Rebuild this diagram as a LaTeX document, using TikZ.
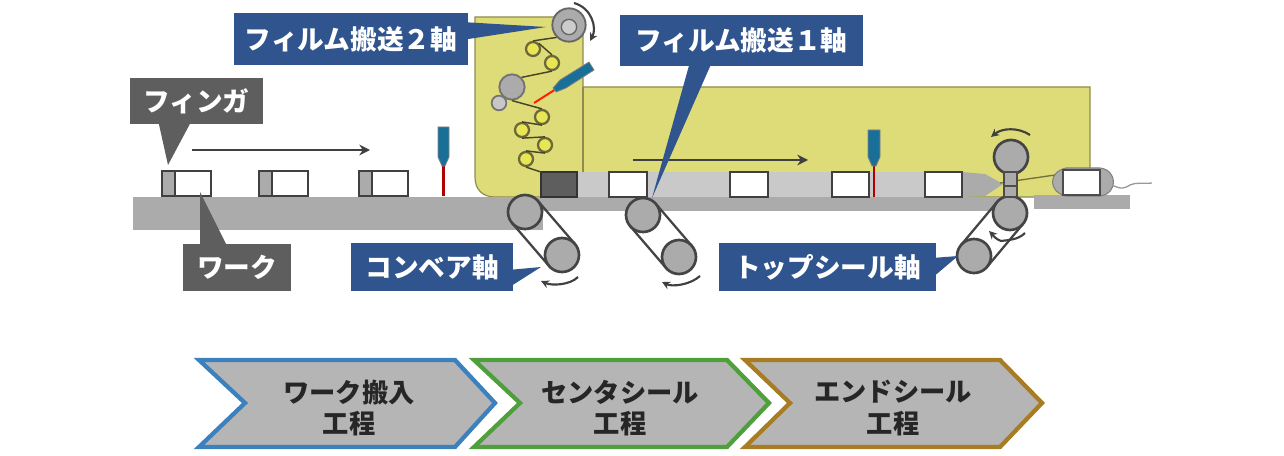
\documentclass[tikz,border=0pt]{standalone}
\usepackage{fontspec}
\setmainfont{Noto Sans CJK JP}
\usetikzlibrary{calc,arrows.meta}
\definecolor{ylw}{HTML}{DEDC78}
\definecolor{ylwd}{HTML}{8F8C4E}
\definecolor{rollr}{HTML}{ABABAB}
\definecolor{rollb}{HTML}{444444}
\definecolor{conv}{HTML}{ABABAB}
\definecolor{strip}{HTML}{C9C9C9}
\definecolor{lblue}{HTML}{30548E}
\definecolor{lgray}{HTML}{5E5E5E}
\definecolor{snsr}{HTML}{1A6F98}
\definecolor{chb}{HTML}{3D80BE}
\definecolor{chg}{HTML}{4FA03C}
\definecolor{cho}{HTML}{A87C22}
\definecolor{chf}{HTML}{B5B5B5}
\tikzset{
  roller/.style={circle,draw=rollb,line width=2pt,fill=rollr,minimum size=25.5pt,inner sep=0pt},
  yroller/.style={circle,draw=ylwd!75!black,line width=1.7pt,fill=ylw!70!yellow,minimum size=10.5pt,inner sep=0pt},
  belt/.style={draw=rollb,line width=1.7pt},
  film/.style={draw=ylwd!50!black,line width=1.1pt},
  flowarrow/.style={draw=black!75,line width=1.6pt,-{Stealth[length=8pt,width=8pt]}},
  turn/.style={draw=black!75,line width=1.6pt,-{Stealth[length=6pt,width=6pt]}},
  bluelabel/.style={fill=lblue,text=white,font=\bfseries\fontsize{20}{24}\selectfont,inner sep=0pt,anchor=center},
  graylabel/.style={fill=lgray,text=white,font=\bfseries\fontsize{20}{24}\selectfont,inner sep=0pt,anchor=center},
  chevtext/.style={text=black!85,font=\bfseries\fontsize{19.7}{23.5}\selectfont,align=center,inner sep=0pt},
  workbox/.style={draw=black!75,line width=1.2pt,fill=white},
  fingerbox/.style={draw=black!75,line width=1.4pt,fill=rollr},
  chev/.style={line width=3.2pt,fill=chf,line join=miter},
}
\begin{document}
\begin{tikzpicture}[x=0.75pt,y=-0.75pt]
\useasboundingbox (0,0) rectangle (1284,456);
% yellow housing
\draw[fill=ylw,draw=ylwd,line width=.9pt]
  (583,87) -- (1090,87) -- (1090,197) -- (495,197) .. controls (483,197) and (475,190) .. (475,177) -- (475,17) -- (583,17) -- cycle;
\draw[ylwd,line width=.9pt] (583,87) -- (583,172);
% conveyor
\fill[conv] (133,197) rectangle (543,230);
\fill[conv] (543,197) rectangle (1000,211);
\fill[conv] (1034,195) rectangle (1130,209);
% film strip
\fill[strip] (577,172) rectangle (965,197);
\draw[fill=rollr,draw=none] (962,172) -- (985,174) -- (1003,184) -- (985,196) -- (962,197) -- cycle;
\draw[fill=lgray,draw=black!80,line width=1.2pt] (541,172) rectangle (577,197);
\foreach \a/\b in {609/647,730/768,832/869,925/962}
  \draw[workbox] (\a,172) rectangle (\b,197);
% workpieces on the conveyor
\foreach \a in {162,259,359}{
  \draw[workbox] (\a,171) rectangle ++(49,25);
  \draw[fingerbox] (\a,171) rectangle ++(13,25);
}
% flow arrows
\coordinate (fa1) at (192,150); \coordinate (fa2) at (370,150);
\coordinate (fb1) at (633,160); \coordinate (fb2) at (808,160);
\draw[flowarrow] (fa1) -- (fa2);
\draw[flowarrow] (fb1) -- (fb2);
% sensors
\draw[red!70!black,line width=1.9pt] (443.5,163) -- (443.5,196);
\draw[fill=snsr,draw=black!50,line width=.6pt] (438,127) -- (449,127) -- (449,157) -- (445,166) -- (442,166) -- (438,157) -- cycle;
\draw[red!70!black,line width=1.9pt] (874,163) -- (874,197);
\draw[fill=snsr,draw=black!50,line width=.6pt] (868,130) -- (880,130) -- (880,157) -- (876,166) -- (872,166) -- (868,157) -- cycle;
% output work
\draw[ylwd!80!black,line width=1pt] (1000,183) -- (1055,175);
\draw[fill=rollr,draw=black!50,line width=.8pt] (1066,168) -- (1100,168) .. controls (1118,170) and (1118,194) .. (1100,196) -- (1066,196) .. controls (1048,192) and (1048,172) .. (1066,168) -- cycle;
\draw[fill=white,draw=black!70,line width=1.6pt] (1063,170) rectangle (1100,195);
\draw[black!40,line width=1pt] (1112,185) .. controls (1122,190) and (1125,188) .. (1130,185) .. controls (1136,182) and (1143,184) .. (1152,183);
% conveyor rollers and belts
\node[roller] (c1) at (525,212) {};
\node[roller] (c2) at (562,255) {};
\node[roller] (b1) at (643,215) {};
\node[roller] (b2) at (679,257) {};
\node[roller] (t1) at (1010,213) {};
\node[roller] (t2) at (974,256) {};
\node[roller] (ts) at (1011,157) {};
\foreach \p/\q in {c1/c2,b1/b2,t1/t2}{
  \draw[belt] ($(\p)!17cm*0.02635!90:(\q)$) -- ($(\q)!17cm*0.02635!-90:(\p)$);
  \draw[belt] ($(\p)!17cm*0.02635!-90:(\q)$) -- ($(\q)!17cm*0.02635!90:(\p)$);
}
% seal column
\draw[fill=rollr,draw=black!70,line width=1.2pt] (1004,172) rectangle (1017,186);
\draw[fill=rollr,draw=black!70,line width=1.2pt] (1004,186) rectangle (1017,197);
% rotation arrows
\coordinate (r1a) at (578,277); \coordinate (r1b) at (541,281);
\coordinate (r2a) at (700,276); \coordinate (r2b) at (662,282);
\coordinate (r3a) at (1025,233); \coordinate (r3b) at (989,231);
\coordinate (r4a) at (1030,135); \coordinate (r4b) at (991,137);
\coordinate (r5a) at (574,3); \coordinate (r5b) at (590,41);
\draw[turn] (r1a) .. controls (570,285) and (552,286) .. (r1b);
\draw[turn] (r2a) .. controls (690,285) and (672,287) .. (r2b);
\draw[turn] (r3a) .. controls (1018,240) and (1008,240) .. (1001,241) .. controls (994,238) and (994,236) .. (r3b);
\draw[turn] (r4a) .. controls (1018,127) and (1002,128) .. (r4b);
\draw[turn] (r5a) .. controls (592,8) and (597,28) .. (r5b);
% film tower
\node[circle,draw=black!60,line width=1.4pt,fill=rollr,minimum size=25pt,inner sep=0pt] (reel) at (569,25) {};
\node[circle,draw=black!60,line width=1pt,fill=black!20,minimum size=11.5pt,inner sep=0pt] (hub) at (569,27) {};
\node[yroller] (y1) at (533,49) {};
\node[yroller] (y2) at (552,63) {};
\node[circle,draw=black!55,line width=1.4pt,fill=rollr,minimum size=19pt,inner sep=0pt] (big) at (512,87) {};
\node[circle,draw=black!55,line width=1.3pt,fill=black!22,minimum size=11pt,inner sep=0pt] (small) at (499,103) {};
\node[yroller] (y3) at (542,117) {};
\node[yroller] (y4) at (522,130) {};
\node[yroller] (y5) at (545,145) {};
\node[yroller] (y6) at (526,159) {};
\draw[film] (reel.south west) -- (y1.north);
\draw[film] (y1.north east) -- (y2.north);
\draw[film] (y2.south) -- (big.north east);
\draw[film] (big.south) -- (y3.north);
\draw[film] (y3.south) -- (y4.north);
\draw[film] (y4.south) -- (y5.north);
\draw[film] (y5.south) -- (y6.north);
\draw[film] (y6.south) -- (541,172);
% sealer on the tower
\draw[red!75!orange,line width=1.5pt] (534,103) -- (556,89);
\draw[fill=snsr,draw=black!50,line width=.6pt] (589,62) -- (594,70) -- (566,88) -- (556,92) -- (553,88) -- (560,80) -- cycle;
% label pointers
\fill[lblue] (462,22) -- (462,40) -- (546,27) -- cycle;
\fill[lblue] (690,62) -- (712,62) -- (652,198) -- cycle;
\fill[lgray] (158,120) -- (192,120) -- (168,165) -- cycle;
\fill[lgray] (200,192) -- (200,248) -- (228,248) -- cycle;
\fill[lblue] (508,270) -- (508,288) -- (541,267) -- cycle;
\fill[lblue] (932,258) -- (932,278) -- (958,256) -- cycle;
% labels
\node[bluelabel,minimum width=175pt,minimum height=39pt] (l2) at (351,39) {フィルム搬送２軸};
\node[bluelabel,minimum width=182pt,minimum height=38pt] (l1) at (741.5,40.5) {フィルム搬送１軸};
\node[graylabel,minimum width=100pt,minimum height=34.5pt] (lf) at (196.5,101) {フィンガ};
\node[graylabel,minimum width=81pt,minimum height=35pt] (lw) at (237,267.5) {ワーク};
\node[bluelabel,minimum width=121.5pt,minimum height=36pt] (lc) at (432,267) {コンベア軸};
\node[bluelabel,minimum width=162.5pt,minimum height=36pt] (lt) at (827.5,267) {トップシール軸};
% chevrons
\draw[chev,draw=cho] (745,360) -- (1000,360) -- (1042,403) -- (1000,447) -- (745,447) -- (790,403) -- cycle;
\draw[chev,draw=chg] (474,360) -- (727,360) -- (769,403) -- (727,447) -- (474,447) -- (520,403) -- cycle;
\draw[chev,draw=chb] (199,360) -- (455,360) -- (495,403) -- (455,447) -- (199,447) -- (245,403) -- cycle;
\node[chevtext] (p1) at (349,408) {ワーク搬入\\工程};
\node[chevtext] (p2) at (620,408) {センタシール\\工程};
\node[chevtext] (p3) at (893,408) {エンドシール\\工程};
\end{tikzpicture}
\end{document}
